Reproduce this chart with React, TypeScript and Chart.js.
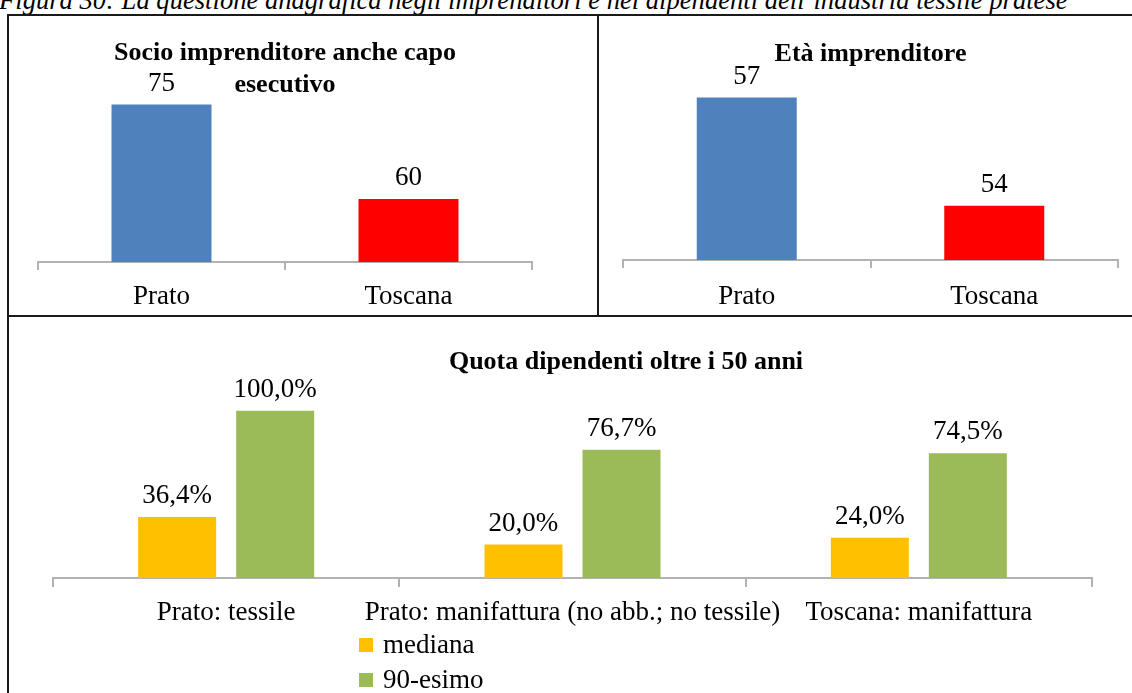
import { useEffect, useRef } from "react";
import { Chart, registerables } from "chart.js";

Chart.register(...registerables);

const FONT = "'Liberation Serif', 'Times New Roman', serif";
const FONT_SIZE = 27;
const TITLE_SIZE = 26;
const AXIS_COLOR = "#B2B2B2";
const TEXT_COLOR = "#000000";

// Socio imprenditore anche capo esecutivo
const socioCategories = ["Prato", "Toscana"];
const socioValues = [75, 60];

// Età imprenditore
const etaCategories = ["Prato", "Toscana"];
const etaValues = [57, 54];

const regionColors = ["#4F81BD", "#FF0000"];

// Quota dipendenti oltre i 50 anni (%)
const quotaCategories = [
  "Prato: tessile",
  "Prato: manifattura (no abb.; no tessile)",
  "Toscana: manifattura",
];
const seriesNames = ["mediana", "90-esimo"];
const medianaValues = [36.4, 20.0, 24.0];
const novantesimoValues = [100.0, 76.7, 74.5];
const seriesColors = ["#FFC000", "#9BBB59"];

const caption =
  "Figura 30: La questione anagrafica negli imprenditori e nei dipendenti dell\u2019industria tessile pratese";

function makeValueLabels(format: (v: number) => string) {
  return {
    id: "valueLabels",
    afterDatasetsDraw(chart: any) {
      const { ctx } = chart;
      ctx.save();
      ctx.font = `${FONT_SIZE}px ${FONT}`;
      ctx.fillStyle = TEXT_COLOR;
      ctx.textAlign = "center";
      ctx.textBaseline = "alphabetic";
      chart.data.datasets.forEach((ds: any, i: number) => {
        const meta = chart.getDatasetMeta(i);
        meta.data.forEach((bar: any, j: number) => {
          ctx.fillText(format(ds.data[j] as number), bar.x, bar.y - 14);
        });
      });
      ctx.restore();
    },
  };
}

// vertical legend list, left aligned under the category labels
function makeListLegend(x: number, firstBaseline: number, step: number) {
  return {
    id: "listLegend",
    afterDraw(chart: any) {
      const { ctx } = chart;
      ctx.save();
      ctx.font = `${FONT_SIZE}px ${FONT}`;
      ctx.textAlign = "left";
      ctx.textBaseline = "alphabetic";
      chart.data.datasets.forEach((ds: any, i: number) => {
        const y = firstBaseline + i * step;
        ctx.fillStyle = ds.backgroundColor;
        ctx.fillRect(x + 1, y - 15, 14, 14);
        ctx.fillStyle = TEXT_COLOR;
        ctx.fillText(ds.label, x + 25, y);
      });
      ctx.restore();
    },
  };
}

function categoryAxis(tickLength: number, padding: number, height: number) {
  return {
    grid: {
      offset: true,
      drawOnChartArea: false,
      drawTicks: true,
      tickLength,
      color: AXIS_COLOR,
      lineWidth: 2,
    },
    border: { display: true, color: AXIS_COLOR, width: 2 },
    ticks: {
      font: { family: FONT, size: FONT_SIZE },
      color: TEXT_COLOR,
      padding,
      maxRotation: 0,
      autoSkip: false,
    },
    afterFit: (s: any) => {
      s.height = height;
    },
  };
}

function titleOptions(text: string | string[], top: number, bottom: number) {
  return {
    display: true,
    text,
    color: TEXT_COLOR,
    font: { family: FONT, size: TITLE_SIZE, weight: "bold" as const, lineHeight: 32 / TITLE_SIZE },
    padding: { top, bottom },
  };
}

function useChart(ref: React.RefObject<HTMLCanvasElement | null>, build: () => any) {
  useEffect(() => {
    if (!ref.current) return;
    const chart = new Chart(ref.current, build());
    return () => chart.destroy();
  }, []);
}

const intFmt = (v: number) => String(v);
const pctFmt = (v: number) => v.toFixed(1).replace(".", ",") + "%";

export default function App() {
  const socioRef = useRef<HTMLCanvasElement | null>(null);
  const etaRef = useRef<HTMLCanvasElement | null>(null);
  const quotaRef = useRef<HTMLCanvasElement | null>(null);

  useChart(socioRef, () => ({
    type: "bar",
    data: {
      labels: socioCategories,
      datasets: [
        {
          data: socioValues,
          backgroundColor: regionColors,
          categoryPercentage: 1,
          barPercentage: 100 / 247,
        },
      ],
    },
    plugins: [makeValueLabels(intFmt)],
    options: {
      animation: false,
      responsive: false,
      layout: { padding: { left: 38, right: 66, top: 0, bottom: 0 } },
      plugins: {
        legend: { display: false },
        tooltip: { enabled: false },
        title: titleOptions(["Socio imprenditore anche capo", "esecutivo"], 37, -28),
      },
      scales: {
        x: categoryAxis(8, 11, 54),
        y: { display: false, min: 50, max: 80 },
      },
    },
  }));

  useChart(etaRef, () => ({
    type: "bar",
    data: {
      labels: etaCategories,
      datasets: [
        {
          data: etaValues,
          backgroundColor: regionColors,
          categoryPercentage: 1,
          barPercentage: 100 / 247.5,
        },
      ],
    },
    plugins: [makeValueLabels(intFmt)],
    options: {
      animation: false,
      responsive: false,
      layout: { padding: { left: 25, right: 14, top: 0, bottom: 0 } },
      plugins: {
        legend: { display: false },
        tooltip: { enabled: false },
        title: titleOptions("Età imprenditore", 38, 9.5),
      },
      scales: {
        x: categoryAxis(8, 13, 56),
        y: { display: false, min: 52.5, max: 57.5 },
      },
    },
  }));

  useChart(quotaRef, () => ({
    type: "bar",
    data: {
      labels: quotaCategories,
      datasets: [
        {
          label: seriesNames[0],
          data: medianaValues,
          backgroundColor: seriesColors[0],
          categoryPercentage: 196 / 346.3,
          barPercentage: 78 / 98,
        },
        {
          label: seriesNames[1],
          data: novantesimoValues,
          backgroundColor: seriesColors[1],
          categoryPercentage: 196 / 346.3,
          barPercentage: 78 / 98,
        },
      ],
    },
    plugins: [makeValueLabels(pctFmt), makeListLegend(358, 337, 35)],
    options: {
      animation: false,
      responsive: false,
      layout: { padding: { left: 53, right: 51, top: 0, bottom: 0 } },
      plugins: {
        legend: { display: false },
        tooltip: { enabled: false },
        title: titleOptions("Quota dipendenti oltre i 50 anni", 30.5, -1.3),
      },
      scales: {
        x: categoryAxis(9, 10, 115),
        y: { display: false, min: 0, max: 120 },
        // empty band on the right of the plot, the title is centred over the whole frame
        side: {
          type: "linear",
          position: "right",
          display: true,
          grid: { display: false },
          border: { display: false },
          ticks: { display: false },
          afterFit: (s: any) => {
            s.width = 107;
          },
        },
      },
    },
  }));

  const line = (left: number, top: number, width: number, height: number) => (
    <div
      style={{ position: "absolute", left, top, width, height, background: "#1a1a1a" }}
    />
  );

  return (
    <div
      style={{
        position: "fixed",
        left: 0,
        top: 0,
        width: 1132,
        height: 693,
        overflow: "hidden",
        background: "#ffffff",
      }}
    >
      <div
        style={{
          position: "absolute",
          left: -1,
          top: -13,
          fontFamily: FONT,
          fontStyle: "italic",
          fontSize: 26.6,
          lineHeight: "27px",
          whiteSpace: "nowrap",
          color: TEXT_COLOR,
        }}
      >
        {caption}
      </div>
      <canvas
        ref={socioRef}
        width={598}
        height={316}
        style={{ position: "absolute", left: 0, top: 0, width: 598, height: 316 }}
      />
      <canvas
        ref={etaRef}
        width={534}
        height={316}
        style={{ position: "absolute", left: 598, top: 0, width: 534, height: 316 }}
      />
      <canvas
        ref={quotaRef}
        width={1250}
        height={377}
        style={{ position: "absolute", left: 0, top: 316, width: 1250, height: 377 }}
      />
      {line(7, 14, 1125, 2)}
      {line(7, 14, 2, 679)}
      {line(597, 14, 2, 302)}
      {line(7, 315, 1125, 2)}
    </div>
  );
}
